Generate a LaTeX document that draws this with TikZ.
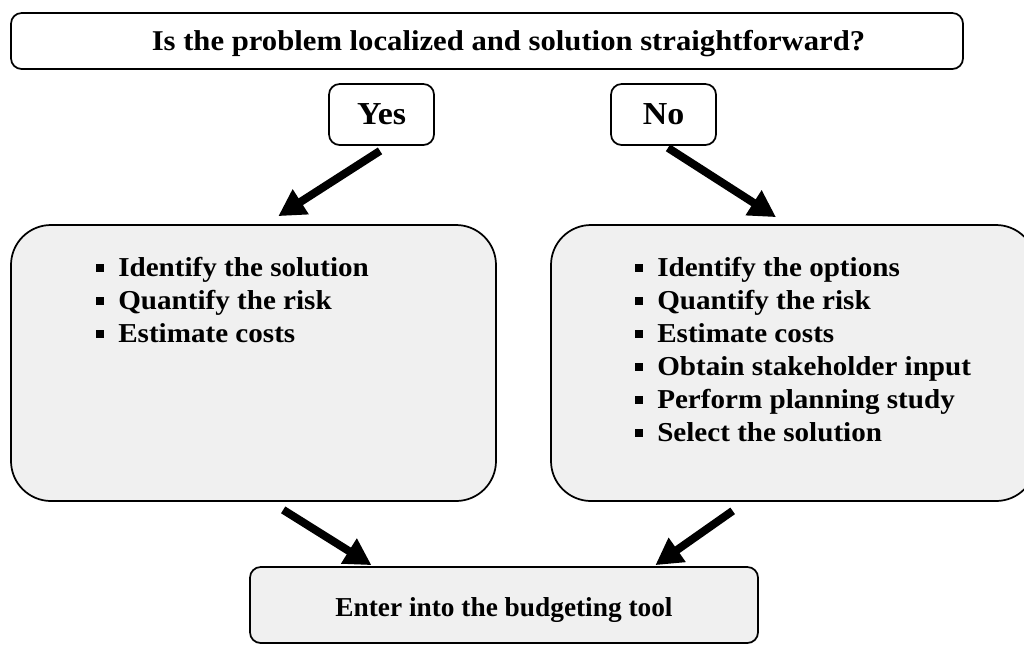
\documentclass[tikz,border=0pt]{standalone}
\usepackage{fontspec}
\setmainfont{Liberation Serif}
\newfontfamily\titlefont[FakeStretch=1.07]{Liberation Serif}
\newfontfamily\listfont[FakeStretch=1.065]{Liberation Serif}
\newfontfamily\ynfont[FakeStretch=1.06]{Liberation Serif}
\usetikzlibrary{arrows.meta,calc}
\definecolor{boxgray}{HTML}{F0F0F0}
\newcommand{\sqb}{\makebox[16.5pt][l]{\raisebox{3.5pt}{\rule{6pt}{6pt}}}}
\begin{document}
\begin{tikzpicture}[x=0.75pt,y=-0.75pt,
  qbox/.style={draw,line width=1.3pt,rounded corners=8pt,fill=white,inner sep=0pt},
  bigbox/.style={draw,line width=1.3pt,rounded corners=30pt,fill=boxgray,inner sep=0pt,
     minimum width=485*0.75pt,minimum height=276*0.75pt},
  endbox/.style={draw,line width=1.3pt,rounded corners=8pt,fill=boxgray,inner sep=0pt},
  bigarrow/.style={line width=6pt,-{Triangle[width=21pt,length=20pt]}},
  listtext/.style={anchor=north west,align=left,inner sep=0pt,font=\listfont\bfseries\fontsize{20.5}{24.8}\selectfont}]
\useasboundingbox (0,0) rectangle (1024,651);
% boxes
\node[qbox,minimum width=952*0.75pt,minimum height=56*0.75pt] (q) at (487,41) {};
\node[inner sep=0pt,font=\titlefont\bfseries\fontsize{21.5}{25}\selectfont] (qtext) at (508.5,44) {Is the problem localized and solution straightforward?};
\node[qbox,minimum width=105*0.75pt,minimum height=61*0.75pt,font=\ynfont\bfseries\fontsize{24}{28}\selectfont] (yes) at (381.5,114.5) {Yes};
\node[qbox,minimum width=105*0.75pt,minimum height=61*0.75pt,font=\ynfont\bfseries\fontsize{24}{28}\selectfont] (no) at (663.5,114.5) {No};
\node[bigbox] (left) at (253.5,363) {};
\node[bigbox] (right) at (793.5,363) {};
\node[endbox,minimum width=508*0.75pt,minimum height=76*0.75pt] (end) at (504,605) {};
\node[inner sep=0pt,font=\bfseries\fontsize{20.5}{25}\selectfont] (endtext) at (504,610) {Enter into the budgeting tool};
% lists
\node[listtext] (llist) at (96,257) {\sqb Identify the solution\\ \sqb Quantify the risk\\ \sqb Estimate costs};
\node[listtext] (rlist) at (635,257) {\sqb Identify the options\\ \sqb Quantify the risk\\ \sqb Estimate costs\\ \sqb Obtain stakeholder input\\ \sqb Perform planning study\\ \sqb Select the solution};
% arrows
\draw[bigarrow] ($(yes.south)+(-1.5,5)$) -- ($(left.north west)!0.551!(left.north east)+(0,-8)$);
\draw[bigarrow] ($(no.south)+(4.5,2)$) -- ($(right.north west)!0.464!(right.north east)+(0,-7)$);
\draw[bigarrow] ($(left.south west)!0.561!(left.south east)+(0,8)$) -- ($(end.north west)!0.24!(end.north east)+(0,-1)$);
\draw[bigarrow] ($(right.south west)!0.375!(right.south east)+(0,9)$) -- ($(end.north west)!0.797!(end.north east)+(0,-1)$);
\end{tikzpicture}
\end{document}
